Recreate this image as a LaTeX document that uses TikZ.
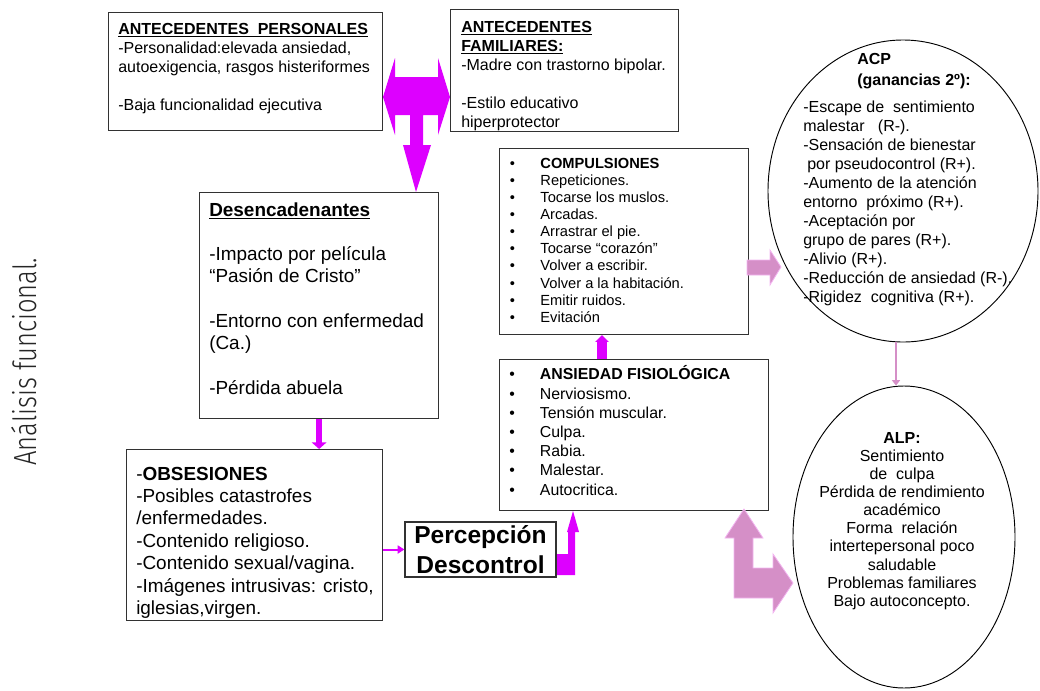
\documentclass[tikz,border=0pt]{standalone}
\usepackage{fontspec}
\usepackage{graphicx}
\setmainfont{Liberation Sans}
\IfFontExistsTF{Fira Sans Light}{\newfontfamily\vfont{Fira Sans Light}}{\newfontfamily\vfont{Fira Sans}}
\usetikzlibrary{shapes.geometric,arrows.meta,calc}
\definecolor{mag}{RGB}{221,0,255}
\definecolor{pinkA}{RGB}{213,143,199}
\definecolor{pinkE}{RGB}{242,180,240}
\definecolor{boxc}{RGB}{50,50,50}
\newcommand\fl{\rule{0pt}{1em}}
\newcommand\bl{\makebox[23pt][l]{\textbullet}}
\begin{document}
\begin{tikzpicture}[x=0.75pt,y=-0.75pt,
  box/.style={draw=boxc, line width=0.9pt, inner sep=0pt, anchor=north west},
  oval/.style={ellipse, draw=black, line width=0.7pt, inner sep=0pt},
  txt/.style={inner sep=0pt, align=left, anchor=north west},
  magblock/.style={fill=mag, draw=none},
  pinkblock/.style={fill=pinkA, draw=pinkE, line width=0.6pt},
  magline/.style={draw=mag, line width=1.5pt, -{Triangle[width=6pt,length=5pt]}},
  pinkline/.style={draw=pinkA, line width=1.5pt, -{Triangle[width=6pt,length=4pt]}}]

\useasboundingbox (0,0) rectangle (1040,690);

% boxes
\node[box, minimum width={274*0.75pt}, minimum height={118*0.75pt}] (pers) at (108,12) {};
\node[box, minimum width={228*0.75pt}, minimum height={122*0.75pt}] (fam) at (450,9) {};
\node[box, minimum width={239*0.75pt}, minimum height={226*0.75pt}] (desenc) at (199,192) {};
\node[box, minimum width={256*0.75pt}, minimum height={171*0.75pt}] (obs) at (126,449) {};
\node[box, minimum width={249*0.75pt}, minimum height={186*0.75pt}] (comp) at (499,148) {};
\node[box, minimum width={269*0.75pt}, minimum height={151*0.75pt}] (ans) at (499,359) {};
\node[box, anchor=center, minimum width={151*0.75pt}, minimum height={55*0.75pt},
      align=center, font=\bfseries\fontsize{18.4}{22.5}\selectfont] (perc) at (480.5,549.5) {Percepción\\Descontrol};
\node[oval, minimum width={270*0.75pt}, minimum height={302*0.75pt}] (acp) at (903,191) {};
\node[oval, minimum width={222*0.75pt}, minimum height={302*0.75pt}] (alp) at (904,537) {};

% texts
\node[txt, font=\fontsize{12}{14.25}\selectfont] (pers-t) at (118,17.8)
  {\fl\textbf{\underline{ANTECEDENTES\ \ PERSONALES}}\\ -Personalidad:elevada ansiedad,\\ autoexigencia, rasgos histeriformes\\ \mbox{}\\ -Baja funcionalidad ejecutiva};
\node[txt, font=\fontsize{12}{14.25}\selectfont] (fam-t) at (461,15.8)
  {\fl\textbf{\underline{ANTECEDENTES}}\\ \textbf{\underline{FAMILIARES:}}\\ -Madre con trastorno bipolar.\\ \mbox{}\\ -Estilo educativo\\ hiperprotector};
\node[txt, font=\fontsize{14.2}{16.7}\selectfont] (desenc-t) at (209,196.9)
  {\fl\textbf{\underline{Desencadenantes}}\\ \mbox{}\\ -Impacto por película\\ “Pasión de Cristo”\\ \mbox{}\\ -Entorno con enfermedad\\ (Ca.)\\ \mbox{}\\ -Pérdida abuela};
\node[txt, font=\fontsize{14.2}{16.8}\selectfont] (obs-t) at (136,460.9)
  {\fl-\textbf{OBSESIONES}\\ -Posibles catastrofes\\ /enfermedades.\\ -Contenido religioso.\\ -Contenido sexual/vagina.\\ -Imágenes intrusivas: cristo,\\ iglesias,virgen.};
\node[txt, font=\fontsize{11}{12.8}\selectfont] (comp-t) at (509.5,153.6)
  {\fl\bl\textbf{COMPULSIONES}\\ \bl Repeticiones.\\ \bl Tocarse los muslos.\\ \bl Arcadas.\\ \bl Arrastrar el pie.\\ \bl Tocarse “corazón”\\ \bl Volver a escribir.\\ \bl Volver a la habitación.\\ \bl Emitir ruidos.\\ \bl Evitación};
\node[txt, font=\fontsize{11.9}{14.4}\selectfont] (ans-t) at (509,363.8)
  {\fl\bl\textbf{ANSIEDAD FISIOLÓGICA}\\ \bl Nerviosismo.\\ \bl Tensión muscular.\\ \bl Culpa.\\ \bl Rabia.\\ \bl Malestar.\\ \bl Autocritica.};
\node[txt, font=\bfseries\fontsize{12}{15.75}\selectfont] (acp-h) at (857,47.8)
  {\fl ACP\\ (ganancias 2º):};
\node[txt, font=\fontsize{12}{14.3}\selectfont] (acp-b) at (803,95.8)
  {\fl-Escape de\ \ sentimiento\\ malestar\ \ \ (R-).\\ -Sensación de bienestar\\ \hspace*{3pt}por pseudocontrol (R+).\\ -Aumento de la atención\\ entorno\ \ próximo (R+).\\ -Aceptación por\\ grupo de pares (R+).\\ -Alivio (R+).\\ -Reducción de ansiedad (R-).\\ -Rigidez\ \ cognitiva (R+).};
\node[inner sep=0pt, align=center, anchor=north, font=\fontsize{12}{13.6}\selectfont] (alp-t) at (902,426.8)
  {\fl\textbf{ALP:}\\ Sentimiento\\ de\ \ culpa\\ Pérdida de rendimiento\\ académico\\ Forma\ \ relación\\ intertepersonal poco\\ saludable\\ Problemas familiares\\ Bajo autoconcepto.};

\node[rotate=90, inner sep=0pt] (vt) at (24,362)
  {\vfont\fontsize{24}{24}\selectfont\color{black!85}\scalebox{0.8}[1]{Análisis funcional.}};

% connectors
\fill[magblock] (383,97) -- (395,58) -- (395,77) -- (438,77) -- (438,58) -- (450,97)
  -- (438,135) -- (438,115) -- (423,115) -- (423,145) -- (431,145) -- (416,192)
  -- (403,145) -- (410,145) -- (410,115) -- (395,115) -- (395,135) -- cycle;

\draw[draw=mag, line width=4.5pt, -{Triangle[width=11pt,length=5pt]}] (desenc.south) -- (desenc.south |- obs.north);

\coordinate (xa) at (602,0);
\draw[draw=mag, line width=7.5pt, -{Triangle[width=10pt,length=5pt]}] (ans.north -| xa) -- (comp.south -| xa);

\draw[magline] (perc.west -| obs.east) -- (perc.west);

\fill[magblock] (557,554) -- (568,554) -- (568,532) -- (567,532) -- (573,511) -- (579,532)
  -- (575,532) -- (575,575) -- (557,575) -- cycle;

\filldraw[pinkblock] (747,260) -- (770,260) -- (770,250) -- (781,267) -- (770,285) -- (770,275) -- (747,275) -- cycle;

\filldraw[pinkblock] (744,509) -- (763,538) -- (753,538) -- (753,568) -- (773,568) -- (773,554)
  -- (793,583) -- (773,613) -- (773,598) -- (734,598) -- (734,538) -- (725,538) -- cycle;

\coordinate (xb) at (896,0);
\draw[pinkline] (acp.south -| xb) -- (alp.north -| xb);
\end{tikzpicture}
\end{document}
